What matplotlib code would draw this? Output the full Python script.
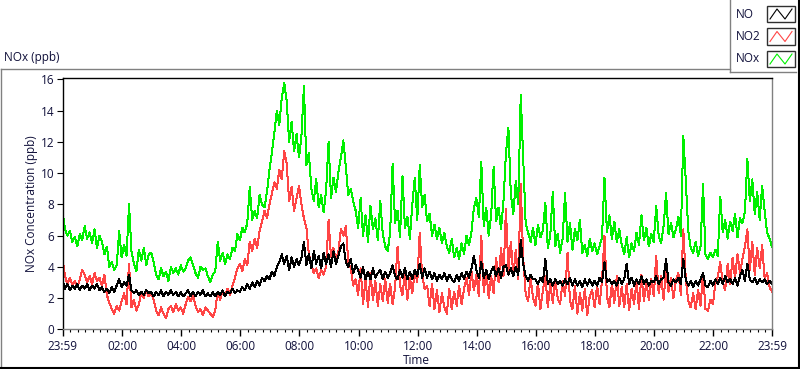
import numpy as np
import matplotlib
matplotlib.use("Agg")
import matplotlib.pyplot as plt
from matplotlib.lines import Line2D
from matplotlib.patches import Rectangle

# one sample every 5 minutes, minute 0 = 23:59 of the previous day
step_min = 5

nox = [
    7.6, 6.4, 6.0, 6.3, 5.6, 5.9, 5.3, 6.1, 5.7, 6.6, 5.8, 6.2,
    5.5, 6.4, 5.2, 6.0, 5.6, 4.8, 5.3, 4.0, 4.3, 3.8, 4.1, 6.3,
    4.6, 5.4, 4.7, 8.0, 5.0, 4.2, 3.7, 5.1, 4.4, 5.2, 4.1, 4.8,
    4.9, 4.3, 3.5, 3.2, 3.9, 3.4, 3.7, 3.1, 4.0, 3.6, 3.9, 3.5,
    4.1, 3.7, 3.9, 4.4, 4.6, 4.1, 3.6, 3.3, 4.0, 3.8, 3.9, 3.4,
    3.0, 3.5, 3.7, 5.6, 4.4, 4.9, 4.2, 4.8, 4.5, 5.2, 5.0, 6.1,
    5.7, 6.5, 6.2, 6.8, 9.1, 7.0, 7.6, 7.1, 8.6, 8.0, 7.8, 8.8,
    10.2, 11.3, 12.6, 14.0, 13.1, 14.8, 15.8, 14.6, 12.0, 13.3, 11.4, 12.5,
    11.0, 12.4, 15.6, 10.5, 11.3, 9.0, 8.2, 9.6, 7.8, 8.6, 7.5, 8.9,
    12.0, 8.4, 9.7, 8.8, 10.1, 11.0, 12.1, 10.4, 8.6, 9.0, 8.2, 7.6,
    6.5, 8.4, 6.0, 7.3, 5.6, 7.9, 6.4, 7.1, 5.7, 8.2, 6.1, 5.3,
    5.0, 6.2, 10.6, 6.8, 7.6, 5.9, 9.8, 6.5, 7.2, 5.8, 8.0, 9.7,
    7.0, 10.5, 7.8, 8.6, 6.9, 7.4, 6.0, 6.7, 5.8, 6.5, 5.5, 6.2,
    5.3, 4.9, 5.8, 4.6, 5.2, 4.5, 5.5, 4.8, 6.0, 5.4, 6.2, 7.8,
    8.4, 7.2, 10.7, 6.6, 7.8, 6.0, 7.3, 10.4, 6.9, 7.8, 6.4, 8.2,
    11.3, 12.9, 8.6, 7.4, 9.5, 8.0, 15.0, 11.0, 6.8, 6.2, 5.6, 6.5,
    5.4, 6.7, 5.9, 6.3, 8.1, 5.2, 6.0, 8.8, 5.3, 6.1, 4.9, 5.8,
    8.7, 5.6, 6.8, 5.1, 6.4, 5.7, 7.0, 4.9, 5.4, 4.7, 5.8, 5.0,
    5.5, 4.8, 5.3, 5.9, 9.7, 6.2, 7.3, 5.8, 6.9, 5.6, 6.4, 5.4,
    4.8, 5.9, 4.6, 5.5, 5.0, 6.2, 5.4, 7.3, 5.7, 6.5, 5.3, 6.1,
    5.6, 7.9, 6.0, 5.5, 6.6, 8.7, 6.1, 6.8, 5.9, 6.4, 7.2, 6.0,
    12.4, 9.5, 6.3, 5.2, 4.9, 5.6, 4.7, 5.3, 9.3, 4.8, 4.5, 4.9,
    4.6, 5.1, 4.7, 8.5, 6.2, 7.0, 5.8, 6.9, 6.3, 7.4, 5.9, 7.1,
    6.8, 7.5, 10.9, 8.2, 9.6, 7.4, 8.8, 7.0, 9.2, 7.6, 6.2, 5.8,
    5.3,
]

no2 = [
    4.6, 3.4, 2.9, 3.3, 2.8, 3.1, 2.7, 3.2, 3.8, 3.5, 3.0, 3.4,
    2.9, 3.6, 3.1, 3.3, 2.8, 3.5, 2.2, 1.7, 1.3, 1.0, 1.5, 1.2,
    1.8, 2.3, 1.6, 4.2, 1.4, 1.9, 1.2, 1.6, 2.4, 2.0, 2.5, 2.1,
    2.3, 1.9, 1.2, 0.9, 1.4, 1.0, 0.7, 1.3, 1.5, 1.1, 1.6, 1.2,
    1.4, 1.0, 1.6, 2.1, 1.8, 2.2, 1.5, 1.1, 1.3, 0.9, 1.4, 1.2,
    1.0, 0.8, 1.2, 2.4, 1.9, 2.5, 2.1, 2.6, 2.2, 2.8, 3.3, 3.9,
    4.2, 3.7, 4.5, 4.1, 5.6, 5.0, 5.8, 5.2, 6.3, 6.9, 7.6, 7.1,
    8.0, 8.7, 9.4, 9.0, 10.2, 9.6, 11.4, 10.6, 8.2, 9.1, 7.6, 8.4,
    9.2, 8.0, 7.1, 6.5, 4.8, 4.2, 3.6, 3.9, 3.3, 3.8, 3.5, 4.0,
    7.0, 4.6, 5.2, 4.4, 5.0, 6.4, 6.0, 6.6, 4.3, 3.9, 2.8, 3.2,
    2.2, 3.9, 1.6, 3.2, 1.4, 3.6, 1.9, 3.1, 1.5, 2.9, 1.8, 3.2,
    1.7, 2.9, 1.6, 2.7, 5.3, 2.8, 2.2, 3.7, 1.9, 3.3, 2.3, 3.8,
    3.0, 6.2, 3.4, 2.6, 2.8, 1.5, 2.9, 1.3, 2.5, 1.1, 2.3, 1.4,
    1.0, 2.6, 1.3, 2.4, 1.5, 2.8, 1.6, 2.6, 3.3, 2.2, 3.7, 2.5,
    3.5, 2.1, 6.0, 2.4, 3.8, 2.0, 3.4, 2.3, 4.6, 3.0, 5.2, 3.4,
    7.7, 3.8, 5.6, 3.4, 5.1, 3.2, 9.3, 4.6, 2.3, 1.8, 3.3, 2.0,
    1.5, 3.0, 1.3, 2.5, 3.4, 1.4, 2.9, 1.7, 3.2, 2.0, 1.6, 3.1,
    2.1, 4.9, 1.8, 1.3, 2.8, 1.0, 2.3, 1.2, 2.6, 0.9, 2.1, 2.5,
    1.4, 2.8, 1.6, 3.1, 6.0, 2.1, 1.4, 2.9, 1.7, 3.4, 1.5, 2.7,
    1.4, 2.9, 1.2, 2.6, 1.6, 3.1, 1.3, 3.5, 1.8, 3.0, 1.9, 3.2,
    2.1, 4.7, 2.3, 3.4, 1.9, 3.8, 2.4, 3.3, 2.0, 3.1, 3.6, 2.2,
    6.4, 3.2, 1.8, 1.4, 2.3, 1.3, 2.5, 1.5, 3.6, 1.3, 1.2, 1.9,
    1.6, 2.9, 3.4, 4.3, 3.0, 2.5, 4.2, 2.9, 4.6, 3.3, 4.8, 3.6,
    4.5, 5.3, 6.4, 3.8, 5.6, 3.5, 5.2, 3.9, 5.4, 3.3, 3.6, 2.7,
    2.4,
]

no = [
    3.1, 2.6, 2.9, 2.5, 2.8, 2.6, 2.9, 2.5, 2.8, 2.6, 2.9, 2.5,
    2.8, 2.6, 2.9, 2.5, 2.7, 2.4, 2.6, 2.3, 2.7, 2.4, 2.8, 3.2,
    2.7, 3.0, 2.8, 3.5, 2.5, 2.3, 2.5, 2.2, 2.4, 2.2, 2.5, 2.3,
    2.4, 2.1, 2.4, 2.2, 2.5, 2.1, 2.4, 2.2, 2.5, 2.2, 2.4, 2.1,
    2.4, 2.1, 2.3, 2.5, 2.1, 2.4, 2.1, 2.4, 2.2, 2.5, 2.1, 2.3,
    2.1, 2.4, 2.1, 2.4, 2.2, 2.5, 2.1, 2.4, 2.3, 2.6, 2.3, 2.5,
    2.4, 2.7, 2.5, 2.9, 2.6, 3.0, 2.7, 3.1, 2.8, 3.3, 3.1, 3.4,
    3.2, 3.7, 3.4, 4.0, 4.3, 4.8, 4.2, 4.7, 3.8, 4.6, 4.0, 4.5,
    4.1, 4.6, 5.6, 4.1, 4.8, 3.9, 5.0, 4.2, 4.7, 3.9, 4.9, 4.2,
    4.8, 4.0, 5.0, 4.2, 4.7, 5.3, 5.5, 4.3, 4.0, 4.5, 3.6, 4.1,
    3.8, 3.3, 4.0, 3.2, 3.7, 3.2, 3.9, 3.3, 3.6, 3.8, 3.2, 3.7,
    3.3, 3.6, 4.1, 3.4, 3.2, 3.8, 3.3, 3.9, 3.2, 3.7, 3.2, 3.8,
    3.4, 4.2, 3.3, 3.9, 3.3, 3.7, 3.2, 3.6, 3.1, 3.5, 3.2, 3.6,
    3.1, 3.5, 3.2, 3.0, 3.5, 3.1, 3.6, 3.2, 3.7, 3.3, 3.9, 4.7,
    3.8, 3.3, 4.3, 3.3, 3.8, 3.2, 3.7, 4.0, 3.4, 3.9, 3.3, 4.0,
    4.1, 3.5, 3.9, 3.4, 4.0, 3.5, 5.7, 4.2, 3.4, 3.1, 3.5, 3.2,
    3.2, 2.9, 3.3, 3.0, 4.5, 2.9, 3.2, 2.8, 3.2, 2.9, 3.1, 2.8,
    3.2, 2.9, 3.3, 2.8, 3.2, 2.8, 3.1, 2.7, 3.2, 2.8, 3.2, 2.8,
    3.1, 2.8, 3.3, 3.0, 4.3, 3.0, 3.2, 2.9, 3.1, 2.8, 3.3, 2.9,
    3.2, 4.2, 2.9, 3.3, 2.8, 3.2, 2.9, 3.4, 2.9, 3.2, 2.8, 3.1,
    3.0, 3.4, 2.9, 3.2, 3.3, 4.5, 3.0, 2.8, 3.2, 3.0, 3.3, 2.9,
    4.5, 3.2, 2.8, 3.1, 2.7, 3.1, 2.8, 3.2, 3.6, 2.8, 2.7, 3.1,
    2.8, 3.2, 2.9, 3.3, 2.9, 3.4, 3.0, 3.2, 2.9, 3.3, 2.8, 3.4,
    3.8, 3.1, 4.2, 3.2, 3.0, 3.3, 2.9, 3.2, 3.0, 3.2, 2.9, 3.1,
    2.9,
]

tick_labels = ["23:59", "02:00", "04:00", "06:00", "08:00", "10:00", "12:00",
               "14:00", "16:00", "18:00", "20:00", "22:00", "23:59"]

W, H = 800, 369
plt.rcParams['font.family'] = ['Open Sans', 'DejaVu Sans']
txt_col = '#10103a'

fig = plt.figure(figsize=(W / 100, H / 100), dpi=100)
fig.patch.set_facecolor('white')

def fx(x):
    return x / W

def fy(y):
    return 1 - y / H

ax = fig.add_axes([fx(62.5), fy(329.3), fx(772) - fx(62.5), fy(78.3) - fy(329.3)])

t = np.arange(len(nox)) * step_min
ax.plot(t, nox, color='#00f000', lw=0.72, antialiased=False)
ax.plot(t, no2, color='#ff4545', lw=0.72, antialiased=False)
ax.plot(t, no, color='black', lw=0.72, antialiased=False)

ax.set_xlim(0, 1440)
ax.set_ylim(0, 16.07)

major = [0] + [60 * h + 1 for h in range(2, 24, 2)] + [1440]
ax.set_xticks(major)
ax.set_xticklabels(tick_labels)
minor = [m + 1 for m in range(15, 1440, 15) if m % 120 != 0]
ax.set_xticks(minor, minor=True)
ax.set_yticks(range(0, 17, 2))

ax.tick_params(axis='x', which='major', length=5, width=1, pad=3,
               labelsize=8.5, labelcolor=txt_col, color='black')
ax.tick_params(axis='x', which='minor', length=2.5, width=0.8, color='black')
ax.tick_params(axis='y', length=4, width=0.8, pad=2,
               labelsize=8.5, labelcolor=txt_col, color='black')

for s in ['top', 'left']:
    ax.spines[s].set_color('black')
for s in ['bottom', 'right']:
    ax.spines[s].set_color('#808080')
for s in ax.spines.values():
    s.set_linewidth(1.0)

# panel frame
def fline(x0, y0, x1, y1, c, lw=1.0):
    fig.add_artist(Line2D([fx(x0), fx(x1)], [fy(y0), fy(y1)], color=c, lw=lw,
                          transform=fig.transFigure))

fline(0.5, 69, 730, 69, '#808080')
fline(0.5, 69, 0.5, 368, '#808080')
fline(0, 368, 800, 368, 'black', 1.5)
fline(798.5, 0, 798.5, 369, 'black', 1.5)
# legend box
fline(730, 0, 730, 71.5, '#808080')
fline(730, 71.5, 796, 71.5, '#808080')

fig.text(fx(4), fy(58), "NOx (ppb)", fontsize=8.5, color=txt_col, va='center', ha='left')
fig.text(fx(32), fy(204), "NOx Concentration (ppb)", fontsize=8.5, color=txt_col,
         rotation=90, va='center', ha='center')
fig.text(fx(416), fy(361), "Time", fontsize=8.5, color=txt_col, va='center', ha='center')

names = ["NO", "NO2", "NOx"]
cols = ['black', '#ff4545', '#00f000']
rows = [14, 36.5, 59]
for name, c, yc in zip(names, cols, rows):
    fig.text(fx(736), fy(yc), name, fontsize=8.5, color=txt_col, va='center', ha='left')
    x0, x1 = 767, 795
    y0, y1 = yc - 8, yc + 8
    fig.add_artist(Rectangle((fx(x0), fy(y1)), fx(x1) - fx(x0), fy(y0) - fy(y1),
                             transform=fig.transFigure, fill=False,
                             edgecolor='#303030', lw=1.0))
    zx = [x0 + 3, x0 + 10, x0 + 18, x1 - 3]
    zy = [y1 - 3, y0 + 3, y1 - 3, y0 + 3]
    fig.add_artist(Line2D([fx(v) for v in zx], [fy(v) for v in zy], color=c, lw=0.8,
                          transform=fig.transFigure))

fig.savefig("out.png", dpi=100, facecolor='white')
